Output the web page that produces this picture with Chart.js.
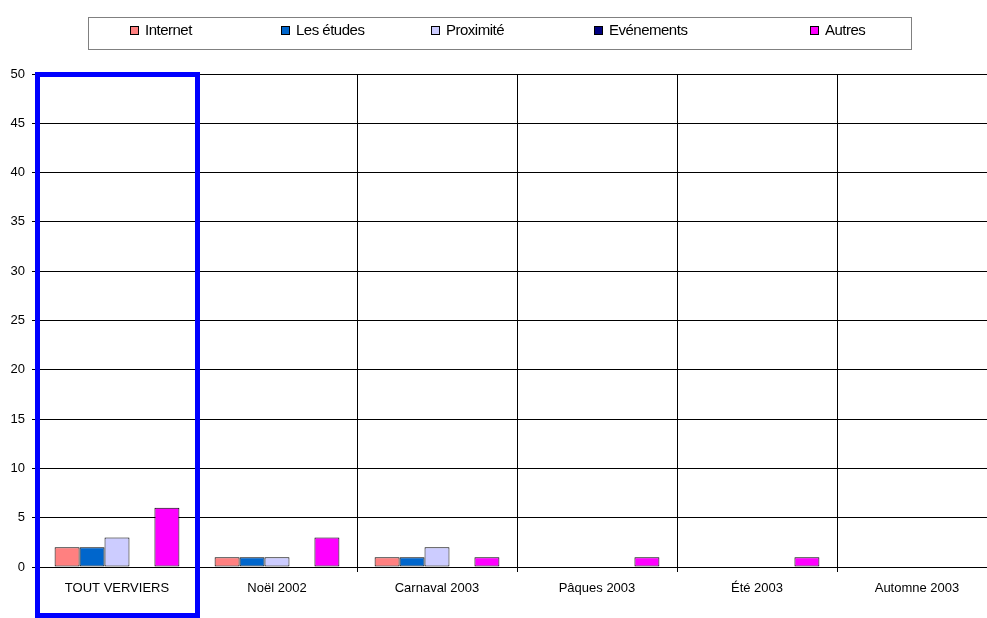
<!DOCTYPE html>
<html>
<head>
<meta charset="utf-8">
<script src="https://cdn.jsdelivr.net/npm/chart.js@4"></script>
<style>
  html, body { margin: 0; padding: 0; background: #fff; overflow: hidden; }
  #wrap { position: relative; width: 997px; height: 618px; }
  #legend {
    position: absolute; left: 88px; top: 17px; width: 822px; height: 31px;
    border: 1px solid #808080; font-family: "Liberation Sans", Arial, sans-serif;
    font-size: 15px; letter-spacing: -0.5px; color: #000;
  }
  .item { position: absolute; top: 3px; line-height: 17px; white-space: nowrap; }
  .sw { display: inline-block; width: 7px; height: 7px; border: 1px solid #000; margin-right: 6px; vertical-align: 0px; }
</style>
</head>
<body>
<div id="wrap">
  <canvas id="bar-chart" width="997" height="618"></canvas>
  <div id="legend"></div>
</div>
<script>
const categories = ['TOUT VERVIERS', 'Noël 2002', 'Carnaval 2003', 'Pâques 2003', 'Été 2003', 'Automne 2003'];
const internet = [2, 1, 1, 0, 0, 0];
const etudes = [2, 1, 1, 0, 0, 0];
const proximite = [3, 1, 2, 0, 0, 0];
const evenements = [0, 0, 0, 0, 0, 0];
const autres = [6, 3, 1, 1, 1, 0];
const yTicks = [0, 5, 10, 15, 20, 25, 30, 35, 40, 45, 50];

const seriesNames = ['Internet', 'Les études', 'Proximité', 'Evénements', 'Autres'];
const seriesColors = ['#FF8080', '#0066CC', '#CCCCFF', '#000080', '#FF00FF'];
const legendLeft = [41, 192, 342, 505, 721];

const font = { family: '"Liberation Sans", Arial, sans-serif', size: 13 };

// blue frame round the first category
const highlight = {
  id: 'highlight',
  afterDraw(chart) {
    const x = chart.scales.x;
    const y = chart.scales.y;
    const half = x.width / categories.length / 2;
    const ctx = chart.ctx;
    ctx.save();
    ctx.strokeStyle = '#0000FF';
    ctx.lineWidth = 5;
    ctx.strokeRect(x.getPixelForValue(0) - half + 0.5, y.getPixelForValue(50) + 0.5,
      half * 2, chart.height - y.getPixelForValue(50) - 3);
    ctx.restore();
  }
};

const chart = new Chart(document.getElementById('bar-chart'), {
  type: 'bar',
  data: {
    labels: categories,
    datasets: [internet, etudes, proximite, evenements, autres].map((d, i) => ({
      label: seriesNames[i],
      data: d,
      backgroundColor: seriesColors[i],
      borderColor: '#000',
      borderWidth: 1,
      borderSkipped: false,
      barPercentage: 1,
      categoryPercentage: 0.78
    }))
  },
  options: {
    responsive: false,
    animation: false,
    layout: { padding: { top: 74, right: 0, left: 0, bottom: 0 } },
    plugins: { legend: { display: false }, tooltip: { enabled: false } },
    scales: {
      x: {
        grid: { color: '#000', lineWidth: 1, tickLength: 5, offset: true },
        border: { color: '#000' },
        ticks: { color: '#000', font: font, padding: 9, maxRotation: 0 },
        afterFit: s => { s.height = 51; }
      },
      y: {
        min: 0,
        max: 50,
        afterBuildTicks: s => { s.ticks = yTicks.map(v => ({ value: v })); },
        grid: { color: '#000', lineWidth: 1, tickLength: 5 },
        border: { color: '#000' },
        ticks: { color: '#000', font: font, padding: 7 },
        afterFit: s => { s.width = 37; }
      }
    }
  },
  plugins: [highlight]
});

const legend = document.getElementById('legend');
seriesNames.forEach((name, i) => {
  const item = document.createElement('span');
  item.className = 'item';
  item.style.left = legendLeft[i] + 'px';
  item.innerHTML = '<span class="sw" style="background:' + seriesColors[i] + '"></span>' + name;
  legend.appendChild(item);
});
</script>
</body>
</html>
